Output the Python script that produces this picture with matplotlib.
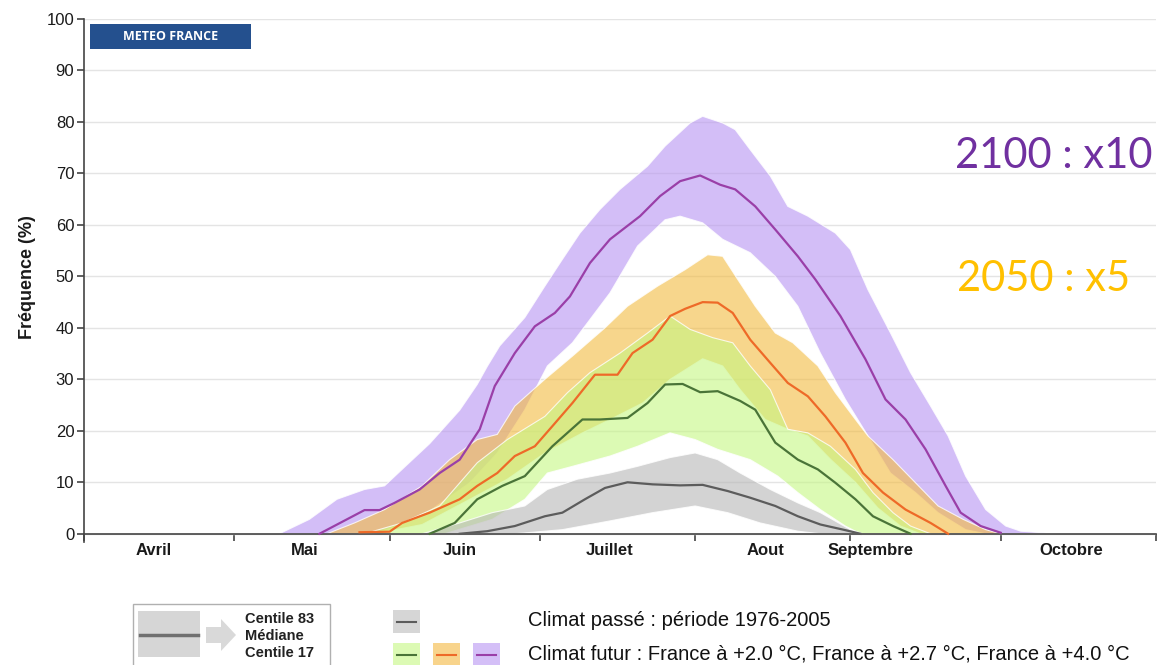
import numpy as np
import matplotlib.pyplot as plt
from matplotlib.patches import Rectangle, Polygon
from matplotlib.colors import to_rgba

plt.rcParams['font.family'] = ['Liberation Sans', 'DejaVu Sans']

W, H = 1158, 665

# x = days since 1 April, y = frequency (%)
month_ticks = [0, 30, 61, 91, 122, 153, 183, 214]
month_label_pos = [14, 44, 75, 105, 136, 157, 197]
month_labels = ['Avril', 'Mai', 'Juin', 'Juillet', 'Aout', 'Septembre', 'Octobre']

# +4.0 °C (purple)
pur_med_d = [47, 56, 59, 62, 67, 71, 75, 79, 82, 86, 90, 94, 97, 101, 105, 111, 115, 119, 123,
             127, 130, 134, 138, 142.5, 146, 151, 156, 160, 164, 168, 172, 175, 179, 183]
pur_med = [0, 4.6, 4.6, 6, 8.6, 11.8, 14.4, 20.3, 28.7, 35.1, 40.3, 42.9, 46.1, 52.6, 57.2, 61.7,
           65.6, 68.5, 69.6, 67.8, 66.9, 63.6, 59.1, 53.9, 49.4, 42.3, 33.9, 26.1, 22.2, 16.4, 9.3,
           4.1, 1.5, 0.2]
pur_hi_d = [39, 45, 50.5, 56, 60, 63.5, 69, 75, 78.5, 80.5, 83, 88, 92, 95.5, 99, 103, 107, 112.5,
            116, 121, 123.5, 127.5, 130, 133, 137, 140.5, 144.5, 150, 153, 156.5, 161, 165, 169,
            172.5, 176, 180, 184, 187, 194]
pur_hi = [0, 2.8, 6.7, 8.6, 9.3, 12.5, 17.5, 24, 29, 32.5, 36.5, 42, 48.1, 53.3, 58.4, 63, 66.9,
          71.4, 75.3, 79.8, 81.1, 79.8, 78.5, 74.6, 69.5, 63.6, 61.7, 58.4, 55.2, 47.4, 39, 31.3,
          24.8, 19, 11.2, 4.7, 1.5, 0.5, 0]
pur_lo_d = [58, 67.5, 77, 82.5, 88, 92.5, 97.5, 105, 110.5, 116, 119, 123.5, 127.5, 133, 138,
            142.5, 147, 152, 156.5, 161, 166, 170.5, 176, 180]
pur_lo = [0, 3.4, 9.9, 15.7, 24.1, 32.6, 37.1, 46.8, 55.9, 61, 61.7, 60.4, 57.2, 54.6, 50, 44.2,
          35.1, 26.1, 19, 11.8, 8, 4.1, 0.8, 0]

# +2.7 °C (orange)
ora_med_d = [55, 61, 63.5, 69, 75, 78.5, 82.5, 86, 90, 93.5, 97.5, 102, 106.5, 109.5, 113.5, 117,
             120, 123.5, 126.5, 129.5, 133, 137, 140.5, 144.5, 148, 152, 155.5, 159.5, 164, 169,
             172.5]
ora_med = [0.3, 0.4, 2.1, 4.1, 6.7, 9.3, 11.8, 15.1, 17, 20.9, 25.4, 30.9, 30.9, 35.1, 37.7, 42.3,
           43.7, 45, 44.9, 42.9, 37.7, 33.2, 29.3, 26.7, 22.8, 17.7, 11.8, 8, 4.7, 2.1, 0]
ora_hi_d = [48.5, 54, 60, 67.5, 73, 78.5, 82.5, 86, 92, 97.5, 104, 108.5, 114.5, 120, 124.5, 127.5,
            130.5, 134, 138, 141.5, 146.5, 150, 154, 156.5, 161.5, 166, 170.5, 175.5, 180, 183]
ora_hi = [0, 2.1, 4.7, 9.3, 14.4, 18.3, 19.3, 24.8, 30, 34.5, 40, 44.2, 48.1, 51.3, 54.2, 53.9,
          49.4, 44.2, 39, 37.1, 32.6, 27.4, 22.2, 19, 14.4, 9.9, 5.4, 2.8, 0.8, 0]
ora_lo_d = [58, 67.5, 77, 84.5, 92, 99.5, 105, 111.5, 117, 123.5, 127.5, 131, 136, 140.5, 144.5,
            149, 154, 158.5, 163, 167]
ora_lo = [0, 1.8, 6.7, 10.6, 15.7, 19.6, 22.2, 25.4, 30, 34, 32.6, 28, 22.2, 20.3, 19, 14.5, 10,
          5, 1.5, 0]

# +2.0 °C (green)
gre_med_d = [69, 74, 78.5, 83.5, 88, 93.5, 99.5, 103, 108.5, 112.5, 116, 119.5, 123, 126.5, 131,
             134, 138, 142.5, 146.5, 150, 154, 157.5, 161.5, 165]
gre_med = [0, 2.1, 6.7, 9.3, 11.2, 17, 22.2, 22.2, 22.5, 25.4, 29, 29.1, 27.5, 27.7, 25.8, 24.1,
           17.7, 14.4, 12.5, 9.9, 6.7, 3.4, 1.5, 0]
gre_hi_d = [56, 63.5, 71, 78.5, 84.5, 92, 96.5, 101, 107, 112.5, 117, 121, 125.5, 129.5, 133, 137,
            140.5, 144.5, 149, 154, 157.5, 161.5, 165, 169]
gre_hi = [0, 2.1, 5.4, 13.8, 18.3, 22.8, 27.4, 31.3, 35.1, 39, 42.3, 39.7, 38.1, 37.1, 32.6, 28,
          20.3, 19.6, 17, 12.5, 8, 4.1, 1.5, 0]
gre_lo_d = [72, 81.5, 88, 92.5, 97.5, 105, 110.5, 117, 122, 126.5, 133, 138.5, 142.5, 147, 152, 155]
gre_lo = [0, 2.8, 6.7, 11.8, 13.1, 15.1, 17, 19.6, 18.3, 16.4, 14.4, 11.2, 8, 4.7, 1.5, 0]

# climat passé 1976-2005 (gray)
gri_med_d = [75, 80.5, 86, 92, 95.5, 100, 104, 108.5, 113.5, 119, 123.5, 128.5, 133, 138, 142.5,
             147, 152, 155]
gri_med = [0, 0.5, 1.5, 3.4, 4.1, 6.7, 8.9, 10, 9.6, 9.4, 9.5, 8.3, 7, 5.4, 3.4, 1.8, 0.7, 0]
gri_hi_d = [67.5, 75, 81.5, 88, 92.5, 98.5, 105, 110.5, 117, 122, 126.5, 131, 137, 142.5, 147,
            153, 155.5]
gri_hi = [0, 2.1, 4.1, 5.4, 8.6, 10.6, 11.8, 13.1, 14.8, 15.7, 14.4, 11.8, 8.6, 6, 4.1, 0.8, 0]
gri_lo_d = [86, 95.5, 105, 113.5, 122, 128.5, 135, 142.5, 147]
gri_lo = [0, 0.8, 2.5, 4.1, 5.4, 4.1, 2.1, 0.5, 0]

series = [
    (pur_hi_d, pur_hi, pur_lo_d, pur_lo, pur_med_d, pur_med, '#b794f2', '#9a3fa8'),
    (ora_hi_d, ora_hi, ora_lo_d, ora_lo, ora_med_d, ora_med, '#f3bb3f', '#ee6a28'),
    (gre_hi_d, gre_hi, gre_lo_d, gre_lo, gre_med_d, gre_med, '#c5f782', '#4a7438'),
    (gri_hi_d, gri_hi, gri_lo_d, gri_lo, gri_med_d, gri_med, '#b6b6b6', '#5c5c5c'),
]

fig = plt.figure(figsize=(W / 100, H / 100), dpi=100)
ax = fig.add_axes([84 / W, 1 - 542 / H, (1156 - 84) / W, (542 - 19) / H])

# bands
for hd, hv, ld, lv, md, mv, fc, lc in series:
    xs = np.concatenate([hd, ld[::-1]])
    ys = np.concatenate([hv, lv[::-1]])
    ax.fill(xs, ys, facecolor=to_rgba(fc, 0.6), edgecolor=to_rgba('white', 0.8), lw=0.8, zorder=1)

# medians
for hd, hv, ld, lv, md, mv, fc, lc in series:
    ax.plot(md, mv, color=lc, lw=1.6, zorder=3)

ax.set_xlim(0, 214)
ax.set_ylim(-1.6, 100)
ax.set_yticks(np.arange(0, 101, 10))
ax.yaxis.grid(True, color='#e4e4e4', lw=1)
ax.set_axisbelow(True)

for s in ['top', 'right']:
    ax.spines[s].set_visible(False)
ax.spines['bottom'].set_position(('data', 0))
ax.spines['bottom'].set_color('#444444')
ax.spines['left'].set_color('#444444')
ax.spines['bottom'].set_linewidth(1.2)
ax.spines['left'].set_linewidth(1.2)

ax.set_xticks(month_ticks)
ax.set_xticklabels([])
ax.set_xticks(month_label_pos, minor=True)
ax.set_xticklabels(month_labels, minor=True, fontsize=12, fontweight='bold', color='#1a1a1a')
ax.tick_params(axis='x', which='major', length=5, width=1.2, color='#444444')
ax.tick_params(axis='x', which='minor', length=0, pad=7)
ax.tick_params(axis='y', length=5, width=1.2, color='#444444', labelsize=12,
               labelcolor='#1a1a1a', pad=2)

fig.text(28 / W, 1 - 277 / H, 'Fréquence (%)', rotation=90, ha='center', va='center',
         fontsize=13, fontweight='bold', color='#1a1a1a')

# Meteo France badge
fig.add_artist(Rectangle((90 / W, 1 - 49 / H), (251 - 90) / W, 25 / H,
                         transform=fig.transFigure, facecolor='#24508e', edgecolor='none'))
fig.text(171 / W, 1 - 37 / H, 'METEO FRANCE', ha='center', va='center', color='white',
         fontsize=9, fontweight='bold', family=['Open Sans', 'DejaVu Sans'])

# annotations
fig.text(955 / W, 1 - 156 / H, '2100 : x10', ha='left', va='center', color='#7030a0',
         fontsize=30, family=['Lato', 'DejaVu Sans'])
fig.text(957 / W, 1 - 279 / H, '2050 : x5', ha='left', va='center', color='#ffc000',
         fontsize=30, family=['Lato', 'DejaVu Sans'])

# legend
fig.add_artist(Rectangle((133 / W, 1 - 670 / H), (330 - 133) / W, (670 - 604) / H,
                         transform=fig.transFigure, facecolor='white', edgecolor='#b0b0b0', lw=1))
fig.add_artist(Rectangle((138 / W, 1 - 657 / H), 62 / W, 46 / H, transform=fig.transFigure,
                         facecolor='#d6d6d6', edgecolor='none'))
fig.add_artist(plt.Line2D([140 / W, 198 / W], [1 - 635 / H, 1 - 635 / H], transform=fig.transFigure,
                          color='#707070', lw=2.5))
arrow = [(206, 627), (221, 627), (221, 619), (236, 635), (221, 651), (221, 643), (206, 643)]
fig.add_artist(Polygon([(x / W, 1 - y / H) for x, y in arrow], closed=True,
                       transform=fig.transFigure, facecolor='#d9d9d9', edgecolor='none'))
for txt, y in [('Centile 83', 619), ('Médiane', 636), ('Centile 17', 653)]:
    fig.text(245 / W, 1 - y / H, txt, ha='left', va='center', fontsize=10.5, fontweight='bold',
             color='#222222', family=['Liberation Sans Narrow', 'Liberation Sans'])

swatches = [(393, 610, '#d6d6d6', '#5c5c5c'),
            (393, 643, '#dcfab4', '#4a7438'),
            (433, 643, '#f8d48c', '#ee6a28'),
            (473, 643, '#d4bff7', '#9a3fa8')]
for x, y, fc, lc in swatches:
    fig.add_artist(Rectangle((x / W, 1 - (y + 23) / H), 27 / W, 23 / H, transform=fig.transFigure,
                             facecolor=fc, edgecolor='none'))
    fig.add_artist(plt.Line2D([(x + 4) / W, (x + 23) / W], [1 - (y + 11.5) / H, 1 - (y + 11.5) / H],
                              transform=fig.transFigure, color=lc, lw=1.5))

fig.text(528 / W, 1 - 621 / H, 'Climat passé : période 1976-2005', ha='left', va='center',
         fontsize=14.5, color='#111111')
fig.text(528 / W, 1 - 654 / H,
         'Climat futur : France à +2.0 °C, France à +2.7 °C, France à +4.0 °C',
         ha='left', va='center', fontsize=14.5, color='#111111')

fig.savefig('out.png', dpi=100)
